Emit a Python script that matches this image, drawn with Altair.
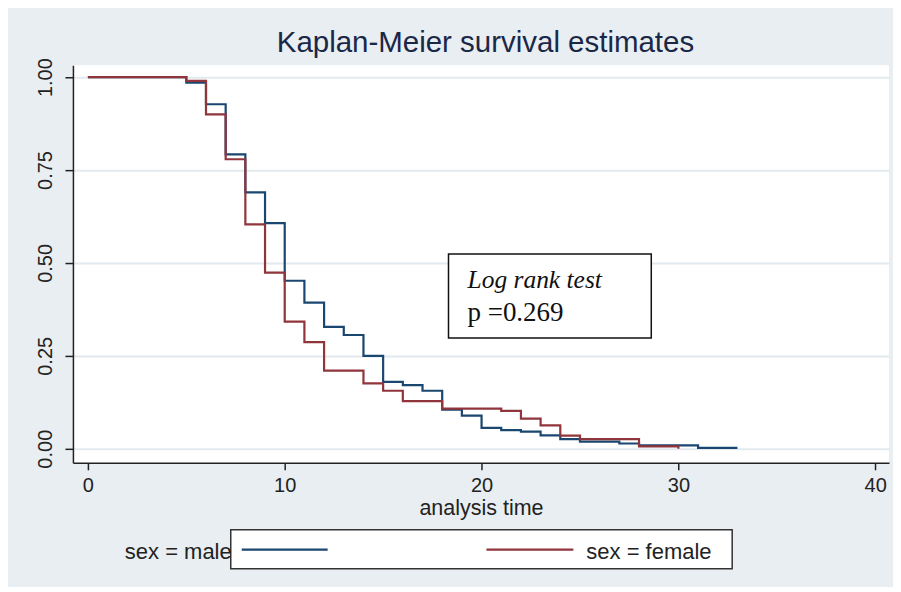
import altair as alt
import pandas as pd

# ---- data ----
male_time = [0, 5, 6, 7, 8, 9, 10, 11, 12, 13, 14, 15, 16, 17, 18, 19, 20, 21, 22, 23, 24, 25, 27, 28, 31, 33]
male_surv = [1.0, 0.985, 0.927, 0.792, 0.690, 0.607, 0.452, 0.393, 0.328, 0.306, 0.250, 0.180, 0.171, 0.156,
             0.105, 0.089, 0.056, 0.050, 0.046, 0.036, 0.026, 0.019, 0.014, 0.009, 0.002, 0.002]
female_time = [0, 5, 6, 7, 8, 9, 10, 11, 12, 14, 15, 16, 18, 21, 22, 23, 24, 25, 28, 30]
female_surv = [1.0, 0.99, 0.90, 0.779, 0.604, 0.474, 0.342, 0.287, 0.210, 0.176, 0.156, 0.128, 0.108,
               0.102, 0.081, 0.063, 0.035, 0.026, 0.006, 0.0]
group_labels = ["sex = male", "sex = female"]
x_ticks = [0, 10, 20, 30, 40]
y_ticks = [0, 0.25, 0.5, 0.75, 1.0]
title_text = "Kaplan-Meier survival estimates"
x_title = "analysis time"
test_label = "Log rank test"
p_label = "p =0.269"

BLUE = "#1a476f"
RED = "#90353b"
BG = "#e8eef1"
FONT = "Liberation Sans"
SERIF = "Liberation Serif"

male_df = pd.DataFrame({"time": male_time, "surv": male_surv, "group": group_labels[0]})
female_df = pd.DataFrame({"time": female_time, "surv": female_surv, "group": group_labels[1]})

x_enc = alt.X("time:Q",
              scale=alt.Scale(domain=[-0.76, 40.7], nice=False, zero=False),
              axis=alt.Axis(values=x_ticks, format="d", title=x_title, grid=False,
                            labelFontSize=20, titleFontSize=21.5, titleFontWeight="normal",
                            tickSize=7, labelPadding=6, titlePadding=2, labelFlush=False))
y_enc = alt.Y("surv:Q",
              scale=alt.Scale(domain=[-0.038, 1.032], nice=False, zero=False),
              axis=alt.Axis(values=y_ticks, format=".2f", title=None, grid=True,
                            gridColor="#e2eaee", gridWidth=2,
                            labelFontSize=20, labelAngle=270, labelAlign="center",
                            labelBaseline="bottom", tickSize=8, labelPadding=9, labelFlush=False))

male_line = alt.Chart(male_df).mark_line(interpolate="step-after", strokeWidth=2.2, color=BLUE).encode(
    x=x_enc, y=y_enc)
female_line = alt.Chart(female_df).mark_line(interpolate="step-after", strokeWidth=2.2, color=RED).encode(
    x=x_enc, y=y_enc)

one = pd.DataFrame({"k": [0]})

title_mark = alt.Chart(one).mark_text(align="center", baseline="alphabetic", fontSize=29.5,
                                      font=FONT, color="#1b2747").encode(
    x=alt.value(413), y=alt.value(-13), text=alt.value(title_text))

# annotation box
ann_box = alt.Chart(one).mark_rect(fill="white", stroke="#111", strokeWidth=1.5).encode(
    x=alt.value(376), x2=alt.value(579), y=alt.value(189), y2=alt.value(273))
ann_t1 = alt.Chart(one).mark_text(align="left", baseline="alphabetic", fontSize=25.5, font=SERIF,
                                  fontStyle="italic", color="#111").encode(
    x=alt.value(395), y=alt.value(223), text=alt.value(test_label))
ann_t2 = alt.Chart(one).mark_text(align="left", baseline="alphabetic", fontSize=27, font=SERIF,
                                  color="#111").encode(
    x=alt.value(395), y=alt.value(256), text=alt.value(p_label))

# legend (Stata-style, below plot)
leg_box = alt.Chart(one).mark_rect(fill="white", stroke="#333", strokeWidth=1.5).encode(
    x=alt.value(158), x2=alt.value(660), y=alt.value(465), y2=alt.value(504))
leg_blue = alt.Chart(one).mark_rule(color=BLUE, strokeWidth=2.2).encode(
    x=alt.value(169), x2=alt.value(255), y=alt.value(485))
leg_red = alt.Chart(one).mark_rule(color=RED, strokeWidth=2.2).encode(
    x=alt.value(414), x2=alt.value(501), y=alt.value(485))
leg_t1 = alt.Chart(one).mark_text(align="left", baseline="alphabetic", fontSize=22, font=FONT,
                                  color="#222").encode(
    x=alt.value(52), y=alt.value(494), text=alt.value(group_labels[0]))
leg_t2 = alt.Chart(one).mark_text(align="left", baseline="alphabetic", fontSize=22, font=FONT,
                                  color="#222").encode(
    x=alt.value(514), y=alt.value(494), text=alt.value(group_labels[1]))

chart = alt.layer(
    male_line, female_line, title_mark, ann_box, ann_t1, ann_t2,
    leg_box, leg_blue, leg_red, leg_t1, leg_t2
).properties(
    width=817, height=398,
    autosize=alt.AutoSizeParams(type="none"),
    padding={"left": 65, "top": 57, "right": 4, "bottom": 124},
    background=BG,
).configure_view(
    fill="white", strokeWidth=0
).configure_axis(
    labelFont=FONT, titleFont=FONT,
    domainColor="#222", tickColor="#222", labelColor="#222", titleColor="#222",
    domainWidth=1.5, tickWidth=1.5,
)

chart.save("out.html", embed_options={"renderer": "svg", "actions": False})
